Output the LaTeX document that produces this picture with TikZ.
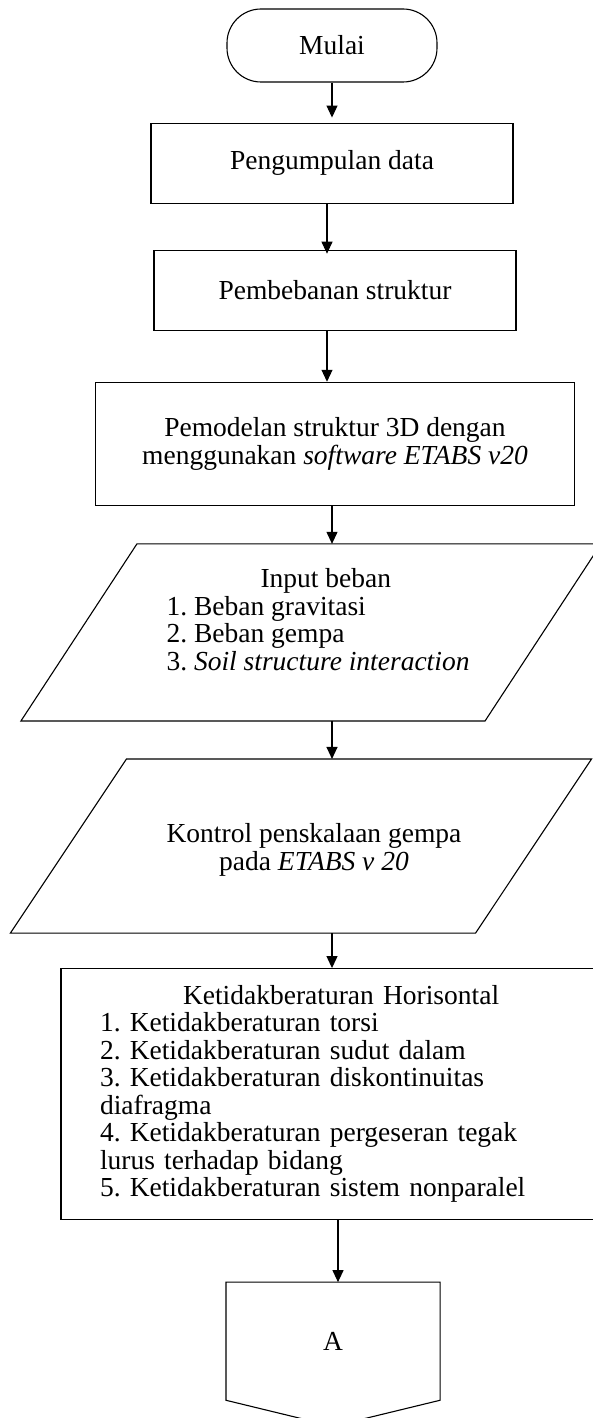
\documentclass[tikz,border=0pt]{standalone}
\usepackage{fontspec}
\setmainfont{Liberation Serif}
\usetikzlibrary{positioning, arrows.meta}
\frenchspacing
\tikzset{
  terminal/.style = {
    rectangle, draw, rounded corners=34pt,
    minimum width=210pt, minimum height=73pt,
    text centered, font=\fontsize{27.5}{27.5}\selectfont,
  },
  process/.style = {
    rectangle, draw,
    minimum width=362pt, minimum height=80pt,
    text centered, font=\fontsize{27.5}{27.5}\selectfont,
  },
  iobox/.style = {
    rectangle, minimum width=463pt, minimum height=176pt,
  },
  textblock/.style = {
    align=left, font=\fontsize{27.5}{27.5}\selectfont,
  },
  connector/.style = {
    rectangle, minimum width=213pt, minimum height=117pt,
    text centered, font=\fontsize{27.5}{27.5}\selectfont,
  },
  arrow/.style = {-{Triangle[length=12pt, width=11pt]}},
}

\begin{document}
\begin{tikzpicture}[x=1pt, y=1pt, line width=1.1pt]
    \useasboundingbox (0,0) rectangle (593,-1418);

    % --- Nodes ---
    \node[terminal] (start) at (332,-45.5) {Mulai};
    \node[process, below=40pt of start] (collect) {Pengumpulan data};
    \node[process, below=46pt of collect, xshift=3pt] (load) {Pembebanan struktur};
    \node[process, below=51pt of load, minimum width=479pt, minimum height=123pt,
          align=center] (model)
        {Pemodelan struktur 3D dengan\\menggunakan \textit{software ETABS v20}};
    \node[iobox, below=38pt of model, xshift=-24pt] (input) {};
    \node[iobox, below=38pt of input, xshift=-10pt,
          minimum width=464pt, minimum height=173pt] (scaling) {};
    \node[process, below=35pt of scaling, xshift=54pt, minimum height=251pt,
          text width=510pt, inner xsep=39pt, align=left] (irreg)
        {\hspace*{83pt}Ketidakberaturan Horisontal\\
         1. Ketidakberaturan torsi\\
         2. Ketidakberaturan sudut dalam\\
         3. Ketidakberaturan diskontinuitas\\
         diafragma\\
         4. Ketidakberaturan pergeseran tegak\\
         lurus terhadap bidang\\
         5. Ketidakberaturan sistem nonparalel};
    \node[connector, below=62pt of irreg, xshift=-22pt] (conn) {A};

    % --- Texts of the input shapes ---
    \node[textblock] (inputtext) at ([xshift=7pt, yshift=13pt]input.center)
        {\hspace*{94pt}Input beban\\
         1. Beban gravitasi\\
         2. Beban gempa\\
         3. \textit{Soil structure interaction}};
    \node[textblock, align=center] (scalingtext) at ([xshift=13pt, yshift=-4pt]scaling.center)
        {Kontrol penskalaan gempa\\pada \textit{ETABS v 20}};

    % --- Outlines ---
    \draw ([xshift=-58pt]input.south west) -- ([xshift=58pt]input.north west)
        -- ([xshift=58pt]input.north east) -- ([xshift=-58pt]input.south east) -- cycle;
    \draw ([xshift=-58pt]scaling.south west) -- ([xshift=58pt]scaling.north west)
        -- ([xshift=58pt]scaling.north east) -- ([xshift=-58pt]scaling.south east) -- cycle;
    % off-page connector
    \draw (conn.north west) -- (conn.north east) -- (conn.south east)
        -- ([yshift=-26pt]conn.south) -- (conn.south west) -- cycle;

    % --- Arrows ---
    \draw[arrow, shorten >=5pt] (start) -- (collect);
    \draw[arrow, shorten >=-4pt] ([xshift=-5pt]collect.south) -- ([xshift=-5pt]collect.south |- load.north);
    \draw[arrow] ([xshift=-8pt]load.south) -- ([xshift=-8pt]load.south |- model.north);
    \draw[arrow] (model.south -| start) -- (input.north -| start);
    \draw[arrow] (input.south -| start) -- (scaling.north -| start);
    \draw[arrow] (scaling.south -| start) -- (irreg.north -| start);
    \draw[arrow] ([xshift=6pt]irreg.south -| start) -- ([xshift=6pt]conn.north -| start);
\end{tikzpicture}
\end{document}
